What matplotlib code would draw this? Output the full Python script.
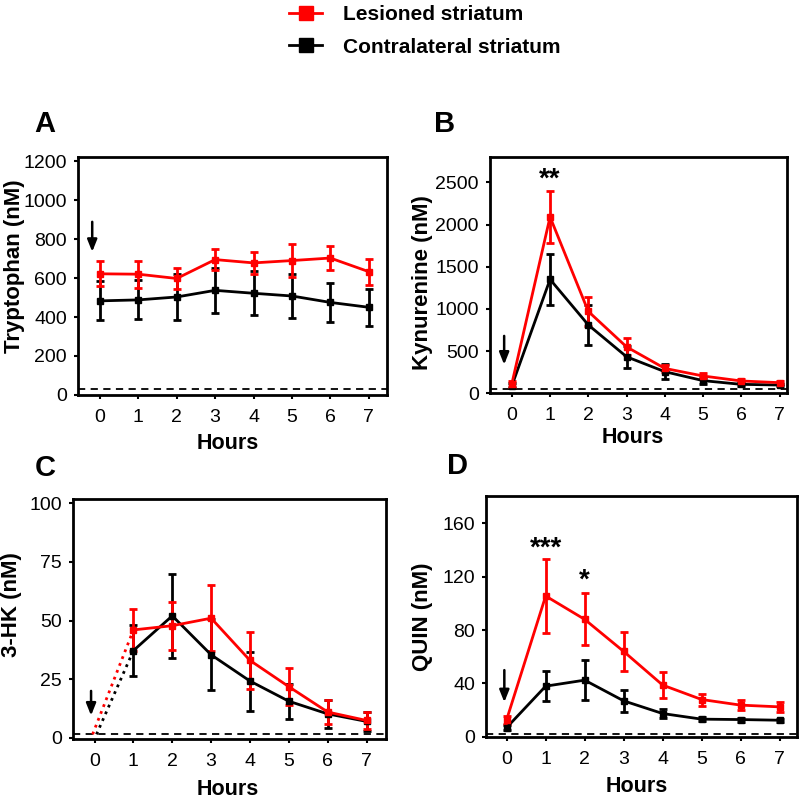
import numpy as np
import matplotlib.pyplot as plt
from matplotlib.lines import Line2D

plt.rcParams['font.family'] = ['Liberation Sans', 'DejaVu Sans']

hours = np.arange(8)

# A: tryptophan
trp_les = [622, 620, 598, 695, 678, 690, 703, 633]
trp_les_err = [65, 70, 55, 55, 55, 83, 60, 67]
trp_con = [483, 488, 503, 537, 522, 508, 475, 450]
trp_con_err = [100, 100, 117, 117, 112, 112, 102, 96]

# B: kynurenine
kyn_les = [110, 2090, 970, 550, 295, 205, 146, 126]
kyn_les_err = [40, 310, 170, 100, 45, 35, 25, 20]
kyn_con = [87, 1350, 810, 433, 256, 150, 106, 98]
kyn_con_err = [30, 305, 235, 130, 90, 40, 20, 15]

# C: 3-HK (no value at hour 0)
hk_hours = np.arange(1, 8)
hk_les = [46, 47.8, 51, 33, 21.8, 11, 7.4]
hk_les_err = [9, 10.3, 14, 12, 8, 5, 3.7]
hk_con = [37.2, 52, 35.4, 24.2, 15.6, 10.2, 7]
hk_con_err = [11, 17.8, 15.2, 12.6, 7.5, 5.8, 4]

# D: QUIN
quin_les = [13, 105.5, 88, 64, 38.8, 28, 23.8, 22.5]
quin_les_err = [3, 28, 19.5, 14.5, 9.5, 4.5, 4, 4]
quin_con = [7, 38, 42.5, 27, 17.5, 13.3, 13, 12.5]
quin_con_err = [2, 11, 15, 8, 3.5, 1.5, 1.5, 1]

RED = '#ff0000'
BLK = '#000000'

fig = plt.figure(figsize=(8, 8.01), dpi=100)

axA = fig.add_axes([0.0975, 0.507, 0.3865, 0.297])
axB = fig.add_axes([0.6125, 0.509, 0.3715, 0.295])
axC = fig.add_axes([0.091, 0.0774, 0.3915, 0.2996])
axD = fig.add_axes([0.6075, 0.080, 0.3885, 0.301])


def series(ax, x, y, err, color):
    ax.errorbar(x, y, yerr=err, color=color, lw=2, marker='s', ms=5,
                capsize=3, capthick=2, elinewidth=2, zorder=3)


def style(ax, ylabel, xlim, ylim, yticks, base, arrow_x, arrow_y, ylab_xy, xlab_xy):
    ax.set_xlim(*xlim)
    ax.set_ylim(*ylim)
    ax.set_xticks(hours)
    ax.set_yticks(yticks)
    ax.tick_params(labelsize=14, width=1.5, length=3, direction='out', pad=7)
    ax.tick_params(axis='y', pad=5)
    for s in ax.spines.values():
        s.set_linewidth(2)
    ax.set_ylabel(ylabel, fontsize=16, fontweight='bold', va='center')
    ax.yaxis.set_label_coords(*ylab_xy)
    ax.set_xlabel('Hours', fontsize=15.5, fontweight='bold', va='center')
    ax.xaxis.set_label_coords(*xlab_xy)
    ax.axhline(base, color='black', lw=1.3, ls=(0, (4, 3)), zorder=1)
    ax.annotate('', xy=(arrow_x, arrow_y[1]), xytext=(arrow_x, arrow_y[0]),
                arrowprops=dict(arrowstyle='-|>,head_width=0.24,head_length=0.6',
                                color='black', lw=1.8, mutation_scale=12,
                                shrinkA=0, shrinkB=0))


# A
series(axA, hours, trp_con, trp_con_err, BLK)
series(axA, hours, trp_les, trp_les_err, RED)
style(axA, 'Tryptophan (nM)', (-0.57, 7.48), (0, 1222),
      [0, 200, 400, 600, 800, 1000, 1200], 28, -0.2, (889, 735),
      (-0.204, 0.54), (0.485, -0.206))

# B
series(axB, hours, kyn_con, kyn_con_err, BLK)
series(axB, hours, kyn_les, kyn_les_err, RED)
style(axB, 'Kynurenine (nM)', (-0.57, 7.2), (0, 2800),
      [0, 500, 1000, 1500, 2000, 2500], 45, -0.2, (680, 340),
      (-0.226, 0.47), (0.48, -0.186))
axB.text(1, 2380, '**', ha='center', va='bottom', fontsize=20, fontweight='bold')

# C
axC.plot([-0.05, 1], [1.5, hk_les[0]], color=RED, lw=2, ls=':')
axC.plot([0.05, 1], [1.5, hk_con[0]], color=BLK, lw=2, ls=':')
series(axC, hk_hours, hk_con, hk_con_err, BLK)
series(axC, hk_hours, hk_les, hk_les_err, RED)
style(axC, '3-HK (nM)', (-0.56, 7.5), (-0.5, 101.8),
      [0, 25, 50, 75, 100], 1.5, -0.09, (20, 9.5),
      (-0.195, 0.56), (0.495, -0.2125))

# D
series(axD, hours, quin_con, quin_con_err, BLK)
series(axD, hours, quin_les, quin_les_err, RED)
style(axD, 'QUIN (nM)', (-0.53, 7.44), (0, 180.5),
      [0, 40, 80, 120, 160], 2.5, -0.06, (50, 26),
      (-0.203, 0.5), (0.486, -0.207))
axD.text(1, 131, '***', ha='center', va='bottom', fontsize=20, fontweight='bold')
axD.text(2, 107, '*', ha='center', va='bottom', fontsize=20, fontweight='bold')

for lab, x, y in [('A', 0.056, 0.845), ('B', 0.556, 0.845),
                  ('C', 0.056, 0.416), ('D', 0.572, 0.418)]:
    fig.text(x, y, lab, fontsize=21, fontweight='bold', ha='center', va='center')

handles = [Line2D([], [], color=RED, lw=2, marker='s', ms=10),
           Line2D([], [], color=BLK, lw=2, marker='s', ms=10)]
fig.legend(handles, ['Lesioned striatum', 'Contralateral striatum'],
           loc='upper left', bbox_to_anchor=(0.338, 1.017), frameon=False,
           prop=dict(size=15, weight='bold'), handlelength=1.6,
           labelspacing=0.65, handletextpad=1.0)

fig.savefig('out.png', dpi=100)
